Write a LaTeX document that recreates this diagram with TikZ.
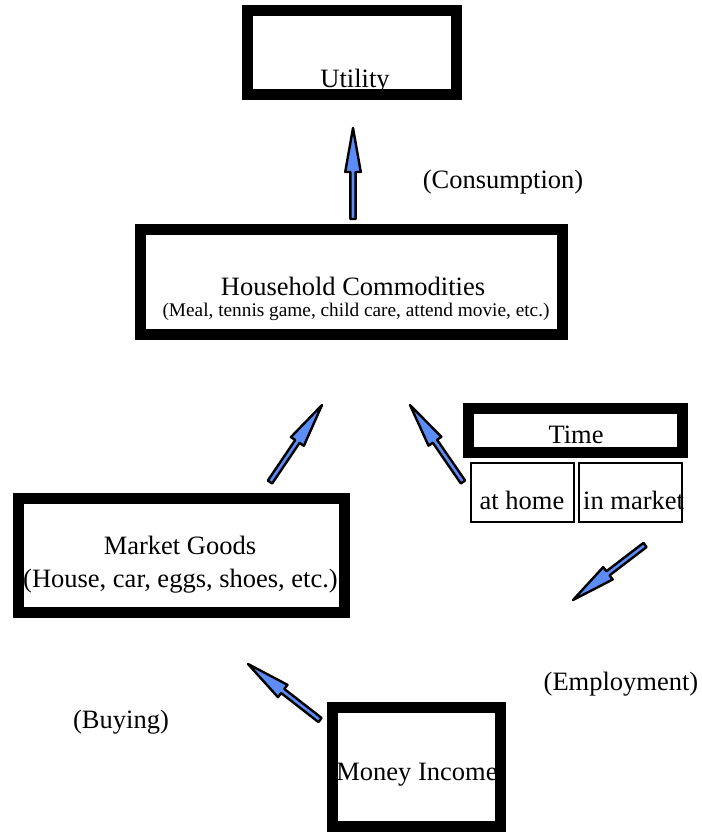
\documentclass[tikz,border=0pt]{standalone}
\usepackage{fontspec}
\setmainfont{Liberation Serif}
\usetikzlibrary{calc}
\definecolor{arrowblue}{RGB}{92,140,245}
\tikzset{
  bigtext/.style={inner sep=0pt, anchor=base, font=\fontsize{26.5}{30}\selectfont},
  smalltext/.style={inner sep=0pt, anchor=base, font=\fontsize{19.3}{22}\selectfont},
  thickbox/.style={draw=black, line width=11pt, rectangle, inner sep=0pt, outer sep=0pt},
  thinbox/.style={draw=black, line width=2pt, rectangle, inner sep=0pt, outer sep=0pt},
  blockarrow/.style={draw=black, fill=arrowblue, line width=2.4pt, line join=round,
    to path={let \p1=(\tikztostart), \p2=(\tikztotarget), \p3=($(\p2)!44pt!(\p1)$) in
      ($(\p1)!2.6pt!90:(\p2)$) -- ($(\p3)!2.6pt!90:(\p2)$) -- ($(\p3)!7.8pt!90:(\p2)$)
      -- (\p2) -- ($(\p3)!7.8pt!-90:(\p2)$) -- ($(\p3)!2.6pt!-90:(\p2)$)
      -- ($(\p1)!2.6pt!-90:(\p2)$) -- cycle}}
}
\begin{document}
\begin{tikzpicture}[x=1pt,y=-1pt]
\useasboundingbox[fill=white] (0,0) rectangle (701,832);

% texts
\node[bigtext] (tutil) at (355,88) {Utility};
\node[bigtext] (tcons) at (503,188) {(Consumption)};
\node[bigtext] (thh) at (353,295) {Household Commodities};
\node[smalltext] (thhsub) at (356,316) {(Meal, tennis game, child care, attend movie, etc.)};
\node[bigtext] (ttime) at (576,443) {Time};
\node[bigtext] (thome) at (522,509) {at home};
\node[bigtext, anchor=base west] (tmarket) at (583,509) {in market};
\node[bigtext] (tmg) at (180,554) {Market Goods};
\node[bigtext] (tmgsub) at (180.5,587) {(House, car, eggs, shoes, etc.)};
\node[bigtext] (temp) at (621,690) {(Employment)};
\node[bigtext] (tbuy) at (121,728) {(Buying)};
\node[bigtext] (tmoney) at (417,780) {Money Income};

% boxes
\node[thickbox, minimum width=209pt, minimum height=84pt] (utility) at (352,52.5) {};
\node[thickbox, minimum width=422pt, minimum height=105pt] (household) at (351.5,282) {};
\node[thickbox, minimum width=326pt, minimum height=114pt] (goods) at (181.5,555.5) {};
\node[thickbox, minimum width=214pt, minimum height=44pt] (time) at (575.5,430.5) {};
\node[thinbox, minimum width=103pt, minimum height=59pt] (home) at (522.5,492.5) {};
\node[thinbox, minimum width=103pt, minimum height=59pt] (market) at (630.5,492.5) {};
\node[thickbox, minimum width=168pt, minimum height=119pt] (money) at (416.5,767) {};

% arrow end points
\coordinate (a1s) at (353,219);
\coordinate (a1e) at (353,128);
\coordinate (a2s) at (270,482);
\coordinate (a2e) at (322,405);
\coordinate (a3s) at (463,482);
\coordinate (a3e) at (410,405);
\coordinate (a4s) at (645,545);
\coordinate (a4e) at (573,600);
\coordinate (a5s) at (320,720);
\coordinate (a5e) at (248,664);

\draw[blockarrow] (a1s) to (a1e);
\draw[blockarrow] (a2s) to (a2e);
\draw[blockarrow] (a3s) to (a3e);
\draw[blockarrow] (a4s) to (a4e);
\draw[blockarrow] (a5s) to (a5e);
\end{tikzpicture}
\end{document}
